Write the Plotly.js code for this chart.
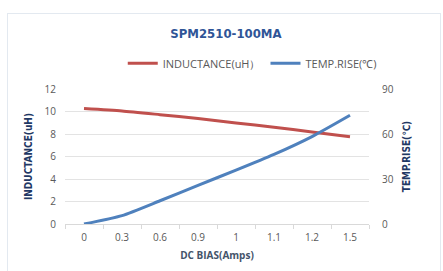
<!DOCTYPE html>
<html><head><meta charset="utf-8">
<script src="https://cdn.plot.ly/plotly-3.0.1.min.js"></script>
<style>
html,body{margin:0;padding:0;background:#fff;}
#wrap{position:relative;width:443px;height:271px;overflow:hidden;}
#frame{position:absolute;left:7px;top:13px;width:434px;height:270px;border:1px solid #e3e9f0;box-sizing:border-box;pointer-events:none;z-index:5;}
#chart{position:absolute;left:0;top:0;width:443px;height:271px;}
</style></head>
<body><div id="wrap"><div id="chart"></div><div id="frame"></div></div>
<script>
const categories = ["0","0.3","0.6","0.9","1","1.1","1.2","1.5"];
const inductance = [10.27, 10.05, 9.72, 9.37, 8.98, 8.6, 8.18, 7.75];
const tempRise = [0, 5.6, 15.5, 25.8, 35.9, 46.4, 58.3, 72.5];
const leftTicks = [0,2,4,6,8,10,12];
const rightTicks = [0,30,60,90];

const tickFont = {family:"Open Sans, Liberation Sans, sans-serif", size:10, color:"#595959"};
const condensed = "DejaVu Sans Condensed, Liberation Sans Narrow, sans-serif";
const traces = [
  {x:categories, y:inductance, name:"INDUCTANCE(uH）", type:"scatter", mode:"lines",
   line:{color:"#c0504d", width:3, shape:"spline", smoothing:0.6}, yaxis:"y"},
  {x:categories, y:tempRise, name:"TEMP.RISE(℃)", type:"scatter", mode:"lines",
   line:{color:"#4f81bd", width:3, shape:"spline", smoothing:0.6}, yaxis:"y2"}
];
const layout = {
  width:443, height:271,
  margin:{l:65, r:74, t:89, b:47},
  paper_bgcolor:"#fff", plot_bgcolor:"#fff",
  title:{text:"SPM2510-100MA", font:{family:condensed, size:13, color:"#2f5597", weight:"bold"},
         x:0.51, xanchor:"center", y:1-33/271, yanchor:"middle"},
  showlegend:true,
  legend:{orientation:"h", x:0.19, xanchor:"left", y:1.19, yanchor:"middle",
          font:{family:"Open Sans, Liberation Sans, sans-serif", size:11, color:"#595959"},
          itemwidth:30, tracegroupgap:0, bgcolor:"rgba(0,0,0,0)"},
  xaxis:{type:"category", range:[-0.5,7.5], tickfont:tickFont, showgrid:false, showline:true, linecolor:"#d9d9d9", linewidth:1,
         ticks:"outside", tickson:"boundaries", ticklen:4, tickcolor:"#d9d9d9", zeroline:false, ticklabelstandoff:4,
         title:{text:"DC BIAS(Amps)", font:{family:"Open Sans, Liberation Sans, sans-serif", size:10, color:"#44546a", weight:"bold"}, standoff:8}},
  yaxis:{range:[0,12], tickvals:leftTicks, tickfont:tickFont, showgrid:true, gridcolor:"#e3e3e3", gridwidth:1,
         zeroline:false, showline:false, ticks:"", ticklabelstandoff:8,
         title:{text:"INDUCTANCE(uH)", font:{family:condensed, size:10, color:"#1f3864", weight:"bold"}, standoff:10}},
  yaxis2:{range:[0,90], tickvals:rightTicks, overlaying:"y", side:"right", tickfont:tickFont, showgrid:false,
          zeroline:false, showline:false, ticks:"", ticklabelstandoff:12,
          title:{text:"TEMP.RISE(℃)", font:{family:condensed, size:10, color:"#1f3864", weight:"bold"}, standoff:10}}
};
Plotly.newPlot("chart", traces, layout, {displayModeBar:false, staticPlot:true});
</script></body></html>
